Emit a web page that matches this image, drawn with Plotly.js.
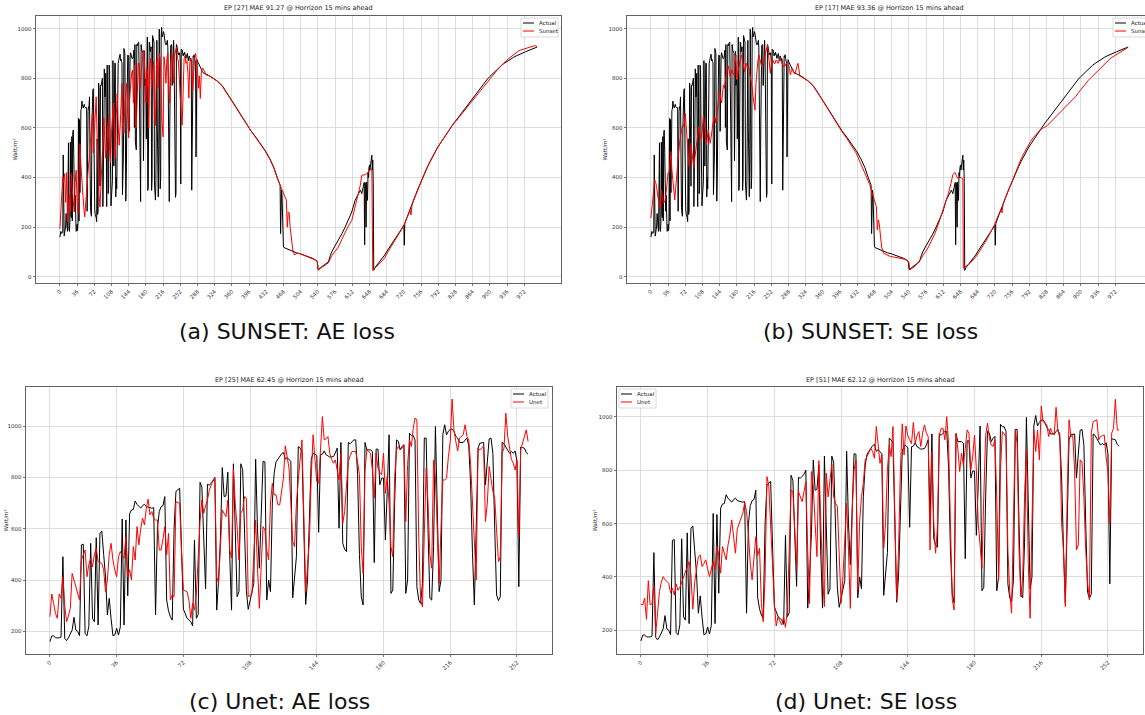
<!DOCTYPE html>
<html><head><meta charset="utf-8">
<script src="https://cdn.plot.ly/plotly-3.0.1.min.js"></script>
<style>html,body{margin:0;padding:0;overflow:hidden;background:#fff}#chart{width:1153px;height:715px}</style>
</head><body><div id="chart"></div>
<script>
// ---------------- DATA ----------------
const longTicks = [0,36,72,108,144,180,216,252,288,324,360,396,432,468,504,540,576,612,648,684,720,756,792,828,864,900,936,972];
const shortTicks = [0,36,72,108,144,180,216,252];
const yTicksLong = [0,200,400,600,800,1000];
const yTicksShort = [200,400,600,800,1000];

const titles = [
  "EP [27] MAE 91.27 @ Horrizon 15 mins ahead",
  "EP [17] MAE 93.36 @ Horrizon 15 mins ahead",
  "EP [25] MAE 62.45 @ Horrizon 15 mins ahead",
  "EP [51] MAE 62.12 @ Horrizon 15 mins ahead"
];
const captions = ["(a) SUNSET: AE loss","(b) SUNSET: SE loss","(c) Unet: AE loss","(d) Unet: SE loss"];
const legendLabels = [["Actual","Sunset"],["Actual","Sunset"],["Actual","Unet"],["Actual","Unet"]];
const yTitle = "Watt/m²";

// Actual irradiance, steps 0..258 (shared by all panels)
const actualHead = [
160,182,183,175,175,175,178,491,173,164,
175,192,205,255,205,200,183,537,540,192,
183,220,543,250,238,565,225,582,591,500,
413,264,329,250,183,186,212,186,218,638,
225,634,339,658,673,675,708,695,686,680,
690,695,686,684,682,680,682,264,600,667,
686,690,725,322,280,257,244,600,745,750,
758,520,287,270,251,245,238,222,556,251,
265,781,762,560,365,773,770,777,785,800,
283,400,563,838,725,728,820,500,283,853,
600,335,355,853,830,600,358,286,322,350,
387,871,600,446,700,862,860,322,400,355,
700,816,860,871,881,892,897,871,877,868,
862,331,420,491,920,914,901,600,305,400,
600,870,894,892,884,586,888,890,903,888,
884,879,880,881,895,914,602,936,543,520,
511,936,931,940,946,946,810,500,335,303,
936,907,907,907,901,468,910,910,771,797,
797,556,745,966,348,361,700,946,940,907,
920,927,348,400,972,963,963,946,374,322,
309,387,953,953,600,329,322,530,998,600,
355,400,966,1005,966,979,988,988,979,960,
953,936,936,936,945,953,923,771,504,303,
600,914,933,935,936,771,850,950,953,894,
600,342,320,335,936,931,918,905,894,901,
894,903,862,374,918,916,914,897,890];

// Actual irradiance after step 258: [step, value]
const actualTail = [
[259,900],[260,895],[261,905],[262,890],[263,885],[264,880],[265,890],[266,895],[267,900],[268,880],
[269,870],[270,885],[271,890],[272,880],[273,870],[274,880],[275,870],[276,349],[277,700],[278,880],
[279,890],[280,885],[281,895],[282,880],[283,870],[284,860],[285,483],[286,600],[287,875],[288,870],
[289,865],[290,860],[291,855],[292,850],[293,845],[294,840],[295,838],[296,835],[297,830],[298,828],
[299,825],[300,822],[310,813],[320,802],[330,788],[340,770],[350,742],[360,710],[370,680],[380,650],
[390,615],[400,588],[410,563],[420,537],[430,508],[440,474],[448,440],[455,400],[460,372],[461,369],
[462,174],[463,300],[464,349],[465,330],[466,200],[467,130],[468,120],[469,118],[475,113],[480,108],
[489,100],[496,96],[503,93],[510,88],[517,82],[524,77],[531,73],[537,65],[539,59],[540,35],
[541,28],[545,36],[552,46],[557,52],[562,60],[566,85],[569,100],[576,125],[583,147],[590,172],
[597,200],[604,232],[611,261],[618,308],[625,335],[629,349],[632,335],[635,365],[637,380],[638,129],
[639,380],[640,350],[641,200],[642,382],[643,340],[644,308],[645,420],[646,400],[647,440],[648,450],
[649,430],[650,443],[651,460],[652,470],[653,490],[654,430],[655,470],[656,380],[657,26],[660,38],
[665,50],[670,60],[675,72],[680,88],[684,101],[690,118],[695,132],[700,145],[705,160],[710,175],
[715,192],[719,205],[720,209],[721,127],[722,214],[726,236],[730,258],[735,283],[740,308],[745,332],
[750,356],[755,380],[760,403],[765,425],[770,445],[775,465],[780,484],[785,502],[790,519],[795,534],
[800,549],[805,565],[810,580],[815,594],[820,608],[825,620],[830,632],[835,645],[840,658],[845,670],
[850,683],[855,697],[860,710],[865,724],[870,737],[875,750],[880,762],[885,774],[890,786],[895,797],
[900,807],[905,817],[910,827],[915,836],[920,845],[925,853],[930,860],[935,867],[940,873],[945,879],
[950,885],[955,890],[960,895],[965,900],[970,904],[975,907],[980,911],[985,915],[990,919],[995,922],[999,926]];

// SUNSET forecast, AE loss: [step, value]
const sunsetAE = [
[0,194],[2,268],[4,330],[6,402],[8,380],[10,416],[12,300],[14,420],[16,221],[18,280],[20,330],[22,260],
[24,416],[26,350],[28,300],[30,261],[32,380],[34,429],[36,300],[38,254],[40,400],[42,537],[44,450],[46,380],
[48,335],[50,280],[52,241],[54,300],[56,362],[58,420],[60,450],[62,483],[64,560],[66,620],[68,658],[70,500],
[72,600],[74,680],[76,725],[78,560],[80,420],[82,330],[84,281],[86,380],[88,500],[90,600],[92,640],[94,560],
[96,480],[98,523],[100,600],[102,650],[104,520],[106,460],[108,580],[110,650],[112,700],[114,560],[116,480],[118,650],
[120,739],[122,620],[124,530],[126,600],[128,700],[130,780],[132,650],[134,580],[136,700],[138,760],[140,779],[142,650],
[144,560],[146,720],[148,800],[150,820],[152,833],[154,700],[156,853],[158,620],[160,600],[162,760],[164,860],[166,860],
[168,760],[170,820],[172,880],[174,900],[176,914],[178,780],[180,700],[182,840],[184,760],[186,600],[188,850],[190,880],
[192,760],[194,820],[196,870],[198,680],[200,610],[202,850],[204,880],[206,760],[208,900],[210,880],[212,720],[214,620],
[216,564],[218,887],[220,850],[222,780],[224,880],[226,900],[228,760],[230,700],[232,870],[234,900],[236,880],[238,780],
[240,890],[242,920],[244,927],[246,880],[248,870],[250,800],[252,700],[254,650],[256,611],[258,800],[260,880],[262,890],
[264,860],[266,870],[268,820],[270,720],[272,860],[274,880],[276,870],[278,752],[280,850],[282,880],[284,900],[286,860],
[288,840],[290,760],[292,810],[294,719],[296,820],[298,840],[300,840],[302,830],[304,820],[306,815],[308,810],[310,812],
[315,808],[320,802],[330,788],[340,768],[350,740],[360,708],[370,678],[380,648],[390,614],[400,588],[410,561],[420,535],
[430,506],[440,472],[448,438],[455,398],[460,372],[464,355],[468,335],[472,318],[474,310],[476,200],[478,262],[480,258],
[482,200],[485,140],[488,100],[492,88],[496,96],[503,93],[510,88],[517,82],[524,77],[531,72],[537,66],[539,60],
[541,26],[545,34],[552,42],[562,56],[569,85],[576,102],[583,120],[590,150],[597,180],[604,205],[611,227],[618,280],
[625,342],[629,370],[632,409],[636,410],[640,412],[645,420],[650,430],[653,436],[655,26],[660,36],[665,44],[670,52],
[675,62],[680,76],[684,92],[690,110],[695,126],[700,142],[705,158],[710,174],[715,190],[720,207],[725,232],[730,255],
[733,268],[735,249],[737,288],[740,305],[745,330],[750,355],[755,380],[760,403],[765,425],[770,445],[775,465],[780,484],
[785,502],[790,519],[795,534],[800,549],[805,564],[810,579],[815,593],[820,606],[825,618],[830,630],[835,642],[840,655],
[845,667],[850,679],[855,692],[860,704],[865,716],[870,727],[875,738],[880,749],[885,760],[890,772],[895,784],[900,796],
[905,808],[910,820],[915,832],[920,843],[925,854],[930,864],[935,872],[940,880],[945,888],[950,896],[955,904],[960,910],
[965,914],[970,917],[975,920],[980,922],[985,925],[990,930],[995,932],[999,928]];

// SUNSET forecast, SE loss: [step, value]
const sunsetSE = [
[0,236],[2,276],[4,300],[6,360],[8,390],[10,380],[12,364],[14,330],[16,300],[18,285],[20,276],[22,350],
[24,320],[26,297],[28,300],[30,310],[32,340],[34,390],[36,420],[38,417],[40,470],[42,505],[44,430],[46,377],
[48,340],[50,310],[52,360],[54,417],[56,450],[58,500],[60,540],[62,560],[64,578],[66,610],[68,605],[70,620],
[72,659],[74,610],[76,560],[78,500],[80,444],[82,480],[84,538],[86,500],[88,460],[90,437],[92,480],[94,520],
[96,538],[98,570],[100,605],[102,590],[104,570],[106,551],[108,600],[110,652],[112,620],[114,560],[116,531],[118,560],
[120,592],[122,570],[124,538],[126,560],[128,599],[130,620],[132,640],[134,645],[136,620],[138,650],[140,686],[142,720],
[144,746],[146,720],[148,700],[150,740],[152,773],[154,760],[156,800],[158,820],[160,840],[162,850],[164,830],[166,807],
[168,820],[170,834],[172,820],[174,813],[176,860],[178,894],[180,793],[182,820],[184,850],[186,867],[188,880],[190,894],
[192,870],[194,840],[196,827],[198,850],[200,860],[202,840],[204,850],[206,830],[208,810],[210,793],[212,760],[214,726],
[216,700],[218,672],[220,780],[222,847],[224,870],[226,894],[228,880],[230,860],[232,847],[234,860],[236,867],[238,880],
[240,900],[242,920],[244,934],[246,900],[248,870],[250,820],[252,850],[254,880],[256,870],[258,860],[260,860],[262,874],
[264,870],[266,860],[268,870],[270,880],[272,870],[274,860],[276,850],[278,847],[280,860],[282,850],[284,860],[286,860],
[288,860],[290,840],[292,813],[294,830],[296,840],[298,830],[300,820],[302,820],[304,840],[306,850],[308,860],[310,830],
[312,807],[314,810],[316,808],[318,807],[320,802],[330,788],[340,768],[350,740],[360,708],[370,678],[380,648],[390,612],
[400,585],[410,558],[420,530],[430,498],[438,462],[445,432],[452,404],[458,372],[462,345],[465,325],[467,310],[470,295],
[472,283],[474,189],[476,230],[478,215],[480,170],[483,120],[487,95],[494,88],[501,82],[510,79],[522,75],[530,71],
[536,66],[540,60],[542,28],[547,34],[553,42],[558,55],[564,68],[570,88],[578,109],[586,140],[595,176],[604,225],
[612,270],[618,305],[623,337],[628,375],[632,411],[635,418],[637,420],[640,405],[642,397],[645,404],[648,400],[651,398],
[653,395],[654,35],[660,42],[665,50],[670,58],[675,68],[680,80],[685,94],[690,108],[695,124],[700,140],[705,157],
[710,175],[715,193],[720,212],[725,238],[730,262],[733,272],[735,258],[737,290],[740,308],[745,333],[750,358],[755,383],
[760,407],[765,430],[770,454],[775,475],[780,495],[785,514],[790,530],[795,546],[800,560],[805,572],[810,583],[815,592],
[820,598],[825,603],[830,610],[835,620],[840,630],[845,640],[850,650],[855,660],[860,669],[866,679],[870,688],[875,698],
[880,708],[885,718],[890,728],[895,742],[902,760],[908,774],[915,790],[920,800],[925,810],[930,819],[938,836],[945,850],
[950,860],[955,869],[960,876],[965,884],[970,890],[973,894],[980,904],[985,910],[990,916],[995,921],[999,925]];

// Unet forecast, AE loss, steps 0..258
const unetAE = [
257,346,309,270,251,346,329,413,300,238,
260,290,426,400,374,350,322,478,500,517,
413,460,485,452,500,524,472,468,465,440,
355,400,500,543,478,440,413,491,511,495,
485,569,413,440,400,530,478,608,537,600,
641,615,680,715,654,667,641,634,634,517,
517,560,608,498,582,322,342,335,706,702,
699,511,361,358,355,322,251,309,283,344,
500,628,712,660,690,712,750,771,790,797,
413,387,550,673,660,647,712,517,485,832,
700,608,478,660,673,725,719,335,340,348,
500,634,450,290,450,608,595,517,478,700,
777,732,732,693,693,745,797,923,875,836,
700,550,530,700,790,875,946,650,355,450,
556,800,966,870,784,777,900,1037,946,950,
959,894,870,855,868,830,790,894,621,667,
780,862,884,901,901,901,860,810,530,426,
823,907,900,894,829,719,894,836,820,810,
894,738,803,700,530,491,800,907,920,907,
915,927,628,850,946,920,990,1031,1024,563,
322,296,580,836,700,500,446,868,800,560,
387,600,790,790,797,880,940,1105,985,940,
903,953,960,966,1005,959,946,850,700,520,
400,914,907,915,920,628,700,842,790,745,
719,600,472,491,894,914,1050,960,907,870,
855,829,868,569,907,930,953,985,940];

// Unet forecast, SE loss, steps 0..258
const unetSE = [
297,295,320,241,386,295,300,366,189,280,
345,380,401,390,382,376,341,357,332,374,
350,361,380,399,414,430,457,407,279,380,
426,476,482,439,450,464,430,401,430,457,
426,514,480,414,514,490,464,520,557,614,
560,489,580,601,620,639,679,645,560,451,
389,480,551,480,507,301,232,400,776,740,
600,420,300,216,251,235,220,250,211,276,
500,726,720,560,432,720,700,682,720,757,
500,300,795,740,600,476,836,650,400,289,
789,700,760,822,700,676,664,500,301,400,
560,676,500,282,650,801,839,351,607,701,
751,839,851,870,882,870,845,964,880,826,
857,507,600,800,895,851,964,600,314,500,
800,974,857,966,930,914,900,979,901,930,
945,889,940,970,940,926,501,870,600,489,
589,932,957,957,914,1001,900,600,314,276,
939,880,795,864,820,880,951,939,801,850,
932,800,600,520,432,700,930,976,920,895,
889,914,700,389,800,945,935,926,500,345,
264,600,951,900,500,326,400,700,876,450,
245,600,951,870,950,839,1041,982,975,970,
926,957,940,932,1036,945,940,600,500,289,
700,989,926,930,800,501,520,839,830,700,
500,376,314,939,982,985,989,914,926,930,
932,850,789,600,939,957,1066,951,951];

// ---------------- BUILD ----------------
const W = 1153, H = 715;
const fx = p => p / W, fy = p => 1 - p / H;
const FONT = 'DejaVu Sans';

const steps = arr => arr.map((_, i) => i);
const headX = steps(actualHead);
const fullActualX = headX.concat(actualTail.map(p => p[0]));
const fullActualY = actualHead.concat(actualTail.map(p => p[1]));

const panels = [
  {box:{x0:36, x1:561, y0:16, y1:283}, xr:[-50,1049], yr:[-25,1051], xt:longTicks, yt:yTicksLong, leg:{side:'right', x:558, y:18}, ytx:14, cap:[287,331]},
  {box:{x0:627,x1:1152,y0:16, y1:283}, xr:[-50,1049], yr:[-25,1051], xt:longTicks, yt:yTicksLong, leg:{side:'left', x:1113, y:18}, ytx:604, cap:[870,331]},
  {box:{x0:26, x1:552, y0:387,y1:654}, xr:[-12.9,270.9], yr:[112,1152], xt:shortTicks, yt:yTicksShort, leg:{side:'right', x:548, y:389}, ytx:5, cap:[279,701]},
  {box:{x0:617,x1:1143,y0:387,y1:654}, xr:[-12.9,270.9], yr:[111,1112], xt:shortTicks, yt:yTicksShort, leg:{side:'left', x:619, y:389}, ytx:594, cap:[866,701]}
];

const series = [
  [{x:fullActualX, y:fullActualY, c:'#000000'}, {x:sunsetAE.map(p=>p[0]), y:sunsetAE.map(p=>p[1]), c:'#ff0000'}],
  [{x:fullActualX, y:fullActualY, c:'#000000'}, {x:sunsetSE.map(p=>p[0]), y:sunsetSE.map(p=>p[1]), c:'#ff0000'}],
  [{x:headX, y:actualHead, c:'#000000'}, {x:steps(unetAE), y:unetAE, c:'#ff0000'}],
  [{x:headX, y:actualHead, c:'#000000'}, {x:steps(unetSE), y:unetSE, c:'#ff0000'}]
];

const traces = [];
const layout = {
  width: W, height: H, margin:{l:0,r:0,t:0,b:0},
  paper_bgcolor:'#fff', plot_bgcolor:'#fff', showlegend:false,
  font:{family:FONT, color:'#222'},
  annotations:[], shapes:[]
};

const axisCommon = {
  showline:true, mirror:true, linecolor:'#3a3a3a', linewidth:0.8,
  showgrid:true, gridcolor:'#d4d4d4', gridwidth:0.8, zeroline:false,
  ticks:'outside', ticklen:2.5, tickwidth:0.7, tickcolor:'#3a3a3a',
  tickfont:{family:FONT, size:5.5, color:'#333'}, automargin:false, fixedrange:true
};

panels.forEach((p, i) => {
  const n = i === 0 ? '' : String(i + 1);
  const b = p.box;
  layout['xaxis' + n] = Object.assign({}, axisCommon, {
    domain:[fx(b.x0), fx(b.x1)], range:p.xr, anchor:'y' + n,
    tickmode:'array', tickvals:p.xt, ticktext:p.xt.map(String), tickangle:-45
  });
  layout['yaxis' + n] = Object.assign({}, axisCommon, {
    domain:[fy(b.y1), fy(b.y0)], range:p.yr, anchor:'x' + n,
    tickmode:'array', tickvals:p.yt, ticktext:p.yt.map(String)
  });
  series[i].forEach((s, k) => {
    traces.push({x:s.x, y:s.y, xaxis:'x' + n, yaxis:'y' + n, type:'scatter', mode:'lines',
      name:legendLabels[i][k], line:{color:s.c, width:1}, hoverinfo:'skip'});
  });
  // title
  layout.annotations.push({xref:'paper', yref:'paper', x:fx((b.x0 + b.x1) / 2), y:fy(b.y0 - 1.5),
    xanchor:'center', yanchor:'bottom', showarrow:false, text:titles[i],
    font:{family:FONT, size:6.5, color:'#222'}});
  // y axis title
  layout.annotations.push({xref:'paper', yref:'paper', x:fx(p.ytx), y:fy((b.y0 + b.y1) / 2),
    xanchor:'center', yanchor:'middle', showarrow:false, textangle:-90, text:yTitle,
    font:{family:FONT, size:5.5, color:'#222'}});
  // caption
  layout.annotations.push({xref:'paper', yref:'paper', x:fx(p.cap[0]), y:fy(p.cap[1]),
    xanchor:'center', yanchor:'middle', showarrow:false, text:captions[i],
    font:{family:FONT, size:22, color:'#111'}});
  // legend box
  const lw = 37, lh = 19;
  const lx0 = p.leg.side === 'right' ? p.leg.x - lw : p.leg.x;
  const ly0 = p.leg.y;
  layout.shapes.push({type:'rect', xref:'paper', yref:'paper', layer:'above',
    x0:fx(lx0), x1:fx(lx0 + lw), y0:fy(ly0), y1:fy(ly0 + lh),
    line:{color:'#d0d0d0', width:0.8}, fillcolor:'rgba(255,255,255,0.85)'});
  [0, 1].forEach(k => {
    const yy = ly0 + 5 + k * 8;
    layout.shapes.push({type:'line', xref:'paper', yref:'paper', layer:'above',
      x0:fx(lx0 + 2), x1:fx(lx0 + 13), y0:fy(yy), y1:fy(yy),
      line:{color:series[i][k].c, width:1}});
    layout.annotations.push({xref:'paper', yref:'paper', x:fx(lx0 + 16), y:fy(yy),
      xanchor:'left', yanchor:'middle', showarrow:false, text:legendLabels[i][k],
      font:{family:FONT, size:5.5, color:'#222'}});
  });
});

Plotly.newPlot('chart', traces, layout, {staticPlot:true, displayModeBar:false});
</script>
</body></html>
